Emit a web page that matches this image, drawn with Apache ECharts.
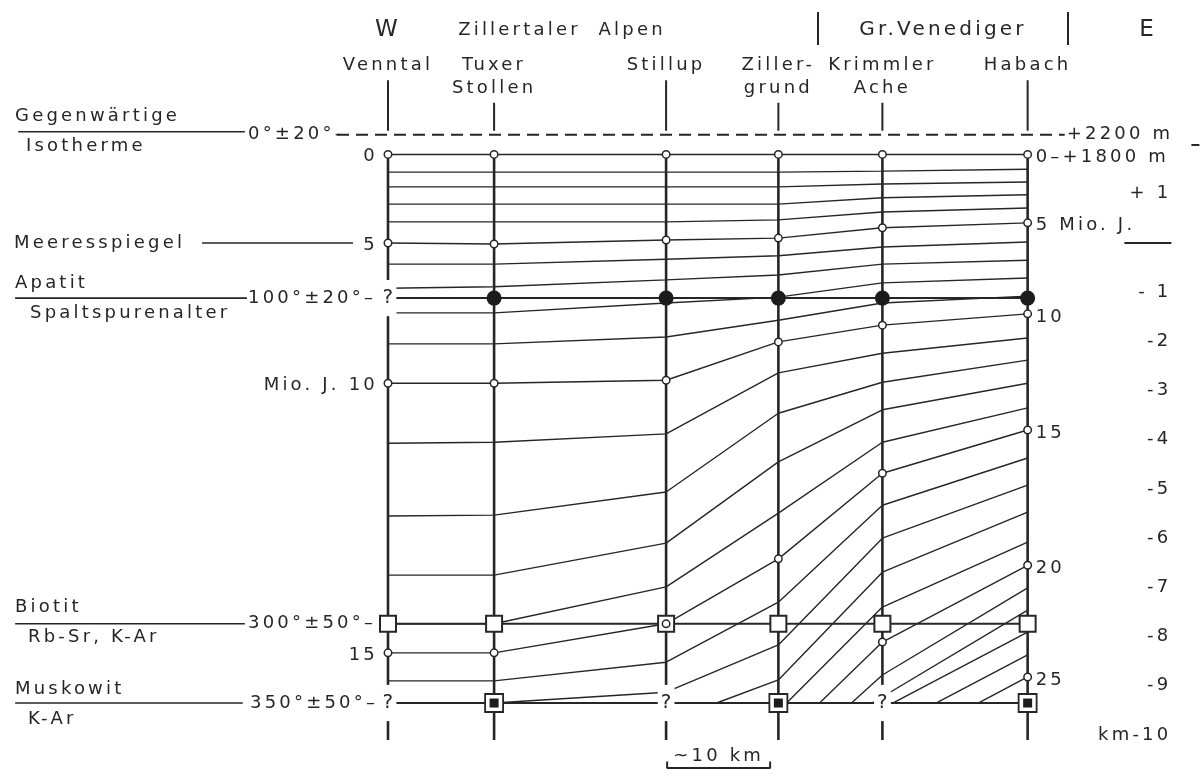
<!DOCTYPE html>
<html><head><meta charset="utf-8">
<script src="https://cdn.jsdelivr.net/npm/echarts@6/dist/echarts.min.js"></script>
<style>html,body{margin:0;padding:0;background:#fff}#c{width:1202px;height:777px}</style>
</head><body><div id="c"></div>
<script>
// ================= DATA =================
const stationNames = [['Venntal'], ['Tuxer', 'Stollen'], ['Stillup'], ['Ziller-', 'grund'], ['Krimmler', 'Ache'], ['Habach']];
const stationKm = [0, 10.3, 27.0, 37.9, 48.0, 62.1];           // distance along profile, km
const ages = [0,1,2,3,4,5,6,7,8,9,10,11,12,13,14,15,16,17,18,19,20,21,22,23,24,25,26]; // Mio. J.
// elevation (km) of each isochron at the six stations
const iso00 = [1.80, 1.80, 1.80, 1.80, 1.80, 1.80];
const iso01 = [1.44, 1.44, 1.44, 1.44, 1.46, 1.50];
const iso02 = [1.14, 1.14, 1.14, 1.14, 1.20, 1.24];
const iso03 = [0.79, 0.79, 0.79, 0.79, 0.92, 0.98];
const iso04 = [0.43, 0.43, 0.43, 0.47, 0.63, 0.71];
const iso05 = [0.00, -0.02, 0.06, 0.10, 0.31, 0.41];
const iso06 = [-0.43, -0.43, -0.33, -0.26, -0.08, 0.02];
const iso07 = [-0.92, -0.89, -0.75, -0.65, -0.43, -0.35];
const iso08 = [-1.42, -1.42, -1.22, -1.10, -0.81, -0.71];
const iso09 = [-2.05, -2.05, -1.91, -1.57, -1.22, -1.08];
const iso10 = [-2.85, -2.85, -2.79, -2.01, -1.67, -1.44];
const iso11 = [-4.07, -4.05, -3.88, -2.64, -2.24, -1.93];
const iso12 = [-5.55, -5.53, -5.06, -3.46, -2.83, -2.38];
const iso13 = [-6.75, -6.75, -6.10, -4.45, -3.39, -2.85];
const iso14 = [-7.74, -7.74, -6.99, -5.49, -4.05, -3.35];
const iso15 = [-8.33, -8.33, -7.74, -6.42, -4.68, -3.80];
const iso16 = [-8.90, -8.90, -8.52, -7.30, -5.33, -4.37];
const iso17 = [null, -9.35, -9.13, -8.17, -6.00, -4.92];
const iso18 = [null, null, null, -8.88, -6.69, -5.47];
const iso19 = [null, null, null, null, -7.40, -6.08];
const iso20 = [null, null, null, null, -8.11, -6.55];
const iso21 = [null, null, null, null, -8.78, -7.01];
const iso22 = [null, null, null, null, null, -7.46];
const iso23 = [null, null, null, null, null, -7.91];
const iso24 = [null, null, null, null, null, -8.37];
const iso25 = [null, null, null, null, null, -8.82];
const iso26 = [null, null, null, null, null, -9.29];
const isochrons = [iso00,iso01,iso02,iso03,iso04,iso05,iso06,iso07,iso08,iso09,iso10,iso11,iso12,iso13,
                   iso14,iso15,iso16,iso17,iso18,iso19,iso20,iso21,iso22,iso23,iso24,iso25,iso26];
// km along profile where the older isochrons emerge from the muscovite level
const emergeKm = {18: 31.9, 19: 38.7, 20: 41.9, 21: 45.0, 22: 47.0, 23: 49.0, 24: 53.2, 25: 57.3, 26: 61.4};
// closure levels (km elevation)
const isothermLevel = 2.2;     // 0° ± 20° isotherm, +2200 m
const apatiteLevel = -1.12;    // 100° ± 20°
const biotiteLevel = -7.74;    // 300° ± 50°
const muscoviteLevel = -9.35;  // 350° ± 50°
const apatiteMarks   = ['?', 'dot', 'dot', 'dot', 'dot', 'dot'];
const muscoviteMarks = ['?', 'sq', '?', 'sq', '?', 'sq'];
const leftAgeLabels  = {0: '0', 5: '5', 10: 'Mio. J. 10', 15: '15'};
const rightAgeLabels = {0: '0\u2013+1800 m', 5: '5 Mio. J.', 10: '10', 15: '15', 20: '20', 25: '25'};
const kmTicks = [1, 0, -1, -2, -3, -4, -5, -6, -7, -8, -9, -10];
const scaleBarKm = 10;

// ================= LAYOUT / STYLE =================
const ink = '#262626';
const FONT = '"DejaVu Sans", sans-serif';
const PXX = 10.3, PXY = 49.2, ORG = [388, 243];
const X_MIN = -37, X_MAX = 78, Y_MIN = -10.8, Y_MAX = 4.9;
const grid = {left: ORG[0] + X_MIN * PXX, top: ORG[1] - Y_MAX * PXY,
              width: (X_MAX - X_MIN) * PXX, height: (Y_MAX - Y_MIN) * PXY};
const stationTop = 1.8, stationBottom = -10.1;
const tickTopHigh = 3.31, tickTopLow = 2.85, tickBottom = 2.28;
const isothermDashKm = [-4.95, 65.7];
const leaders = [  // [level, xFrom, xTo] in km
  [isothermLevel + 0.06, -35.9, -13.9], [0, -18.06, -3.4], [apatiteLevel, -36.2, -13.7],
  [biotiteLevel, -36.2, -13.9], [muscoviteLevel, -36.2, -14.1]];
const scaleBarStart = 27.1, scaleBarLevel = -10.67;

// letter-spaced stencil lettering
(function(){
  const P = CanvasRenderingContext2D.prototype;
  const f = P.fillText, m = P.measureText;
  P.fillText = function(){ try{ this.letterSpacing = '3.2px'; }catch(e){} return f.apply(this, arguments); };
  P.measureText = function(){ try{ this.letterSpacing = '3.2px'; }catch(e){} return m.apply(this, arguments); };
})();

const chart = echarts.init(document.getElementById('c'), null, {renderer: 'canvas'});
const series = [];
const line = (data, width, extra) => Object.assign({type: 'line', data, symbol: 'none', silent: true,
  animation: false, z: 3, lineStyle: {color: ink, width}}, extra || {});

// isochrons
isochrons.forEach((row, a) => {
  const pts = [];
  if (emergeKm[a] !== undefined) pts.push([emergeKm[a], muscoviteLevel]);
  row.forEach((v, i) => { if (v !== null) pts.push([stationKm[i], v]); });
  series.push(line(pts, 1.4, {z: 2}));
});
// station verticals and top ticks
stationKm.forEach((x, i) => {
  series.push(line([[x, stationTop], [x, stationBottom]], 2.6));
  series.push(line([[x, tickBottom], [x, stationNames[i].length > 1 ? tickTopLow : tickTopHigh]], 2));
});
// closure levels
series.push(line([[stationKm[0], apatiteLevel], [stationKm[5], apatiteLevel]], 2));
series.push(line([[stationKm[0], biotiteLevel], [stationKm[5], biotiteLevel]], 2));
series.push(line([[stationKm[0], muscoviteLevel], [stationKm[5], muscoviteLevel]], 2));
series.push(line([[isothermDashKm[0], isothermLevel], [isothermDashKm[1], isothermLevel]], 2,
  {lineStyle: {color: ink, width: 2, type: [12, 7]}}));
leaders.forEach(l => series.push(line([[l[1], l[0]], [l[2], l[0]]], 1.6)));
// scale bar
series.push(line([[scaleBarStart, scaleBarLevel + 0.13], [scaleBarStart, scaleBarLevel],
  [scaleBarStart + scaleBarKm, scaleBarLevel], [scaleBarStart + scaleBarKm, scaleBarLevel + 0.13]], 2));

// markers
const dots = [], whiteSq = [], blackSq = [], qmarks = [], circles = [];
stationKm.forEach((x, i) => {
  if (apatiteMarks[i] === 'dot') dots.push([x, apatiteLevel]); else qmarks.push([x, apatiteLevel]);
  whiteSq.push([x, biotiteLevel]);
  if (muscoviteMarks[i] === 'sq') blackSq.push([x, muscoviteLevel]); else qmarks.push([x, muscoviteLevel]);
});
isochrons.forEach((row, a) => { if (ages[a] % 5 === 0) row.forEach((v, i) => { if (v !== null) circles.push([stationKm[i], v]); }); });
const sc = (data, extra) => Object.assign({type: 'scatter', data, silent: true, animation: false}, extra);
series.push(sc(dots, {symbol: 'circle', symbolSize: 15, itemStyle: {color: '#1c1c1c', opacity: 1}, z: 5}));
series.push(sc(whiteSq, {symbol: 'rect', symbolSize: 16, itemStyle: {color: '#fff', borderColor: ink, borderWidth: 2, opacity: 1}, z: 5}));
series.push(sc(blackSq, {symbol: 'rect', symbolSize: 18, itemStyle: {color: '#fff', borderColor: ink, borderWidth: 1.8, opacity: 1}, z: 5}));
series.push(sc(blackSq, {symbol: 'rect', symbolSize: 9, itemStyle: {color: '#1c1c1c', opacity: 1}, z: 6}));
series.push(sc(circles, {symbol: 'circle', symbolSize: 7.5, itemStyle: {color: '#fff', borderColor: ink, borderWidth: 1.5, opacity: 1}, z: 7}));
series.push(sc(qmarks, {symbol: 'circle', symbolSize: 2, itemStyle: {color: 'rgba(255,255,255,0)', opacity: 1}, z: 8,
  label: {show: true, position: 'inside', formatter: '?', color: ink, fontSize: 20, fontFamily: FONT,
          backgroundColor: '#fff', padding: [7, 0, 6, 3]}}));

const option = {
  backgroundColor: '#fff',
  animation: false,
  grid: Object.assign({containLabel: false}, grid),
  xAxis: {type: 'value', min: X_MIN, max: X_MAX, show: false},
  yAxis: [
    {type: 'value', min: Y_MIN, max: Y_MAX, show: false},
    {type: 'value', min: Y_MIN, max: Y_MAX, position: 'right', show: true,
     axisLine: {show: false}, splitLine: {show: false},
     axisTick: {show: true, customValues: [2], length: 8, inside: false, lineStyle: {color: ink, width: 2}},
     axisLabel: {show: true, inside: true, margin: 20, customValues: kmTicks, color: ink, fontSize: 18, fontFamily: FONT,
       formatter: v => v === 0 ? '{bar| }' : v === -10 ? 'km-10' : v > 0 ? '+ ' + v : v === -1 ? '- 1' : '-' + (-v),
       rich: {bar: {width: 47, height: 2, backgroundColor: ink}}}}
  ],
  series
};
chart.setOption(option);

// ---------- text annotations ----------
const P = (x, y) => chart.convertToPixel({gridIndex: 0}, [x, y]);
const T = (text, x, y, align, size) => ({type: 'text', x, y, silent: true, z: 20,
  style: {text, fill: ink, font: (size || 18) + 'px ' + FONT, align: align || 'left', verticalAlign: 'middle',
          textAlign: align || 'left', textVerticalAlign: 'middle'}});
const G = [];
// headings
G.push(T('W', P(stationKm[0], 0)[0], 30, 'center', 23));
G.push(T('Zillertaler  Alpen', 562, 30, 'center'));
G.push(T('Gr.Venediger', 943, 30, 'center', 20));
G.push(T('E', 1148, 30, 'center', 23));
[818, 1068].forEach(x => G.push({type: 'line', silent: true, z: 20, shape: {x1: x, y1: 12, x2: x, y2: 45}, style: {stroke: ink, lineWidth: 2}}));
// station names
stationKm.forEach((x, i) => {
  const cx = P(x, 0)[0];
  stationNames[i].forEach((s, k) => G.push(T(s, cx, 65 + 23 * k, 'center')));
});
// left legend
const yl = v => P(0, v)[1];
G.push(T('Gegenwärtige', 15, yl(isothermLevel) - 18));
G.push(T('Isotherme', 26, yl(isothermLevel) + 12));
G.push(T('0°±20°-', 248, yl(isothermLevel)));
G.push(T('Meeresspiegel', 14, yl(0)));
G.push(T('Apatit', 15, yl(apatiteLevel) - 15));
G.push(T('Spaltspurenalter', 30, yl(apatiteLevel) + 15));
G.push(T('100°±20°\u2013', 248, yl(apatiteLevel)));
G.push(T('Biotit', 15, yl(biotiteLevel) - 16));
G.push(T('Rb-Sr, K-Ar', 28, yl(biotiteLevel) + 14));
G.push(T('300°±50°\u2013', 248, yl(biotiteLevel)));
G.push(T('Muskowit', 15, yl(muscoviteLevel) - 14));
G.push(T('K-Ar', 28, yl(muscoviteLevel) + 16));
G.push(T('350°±50°\u2013', 250, yl(muscoviteLevel)));
// age labels
Object.keys(leftAgeLabels).forEach(a => { const p = P(stationKm[0], isochrons[a][0]); G.push(T(leftAgeLabels[a], p[0] - 10, p[1] + 2, 'right')); });
Object.keys(rightAgeLabels).forEach(a => { const p = P(stationKm[5], isochrons[a][5]); G.push(T(rightAgeLabels[a], p[0] + 8, p[1] + 3, 'left')); });
{ const p = P(isothermDashKm[1], isothermLevel); G.push(T('+2200 m', p[0] + 2, p[1], 'left')); }
{ const p = P(scaleBarStart + scaleBarKm / 2, scaleBarLevel); G.push(T('~10 km', p[0], p[1] - 12, 'center')); }
chart.setOption({graphic: {elements: G}});
</script></body></html>
